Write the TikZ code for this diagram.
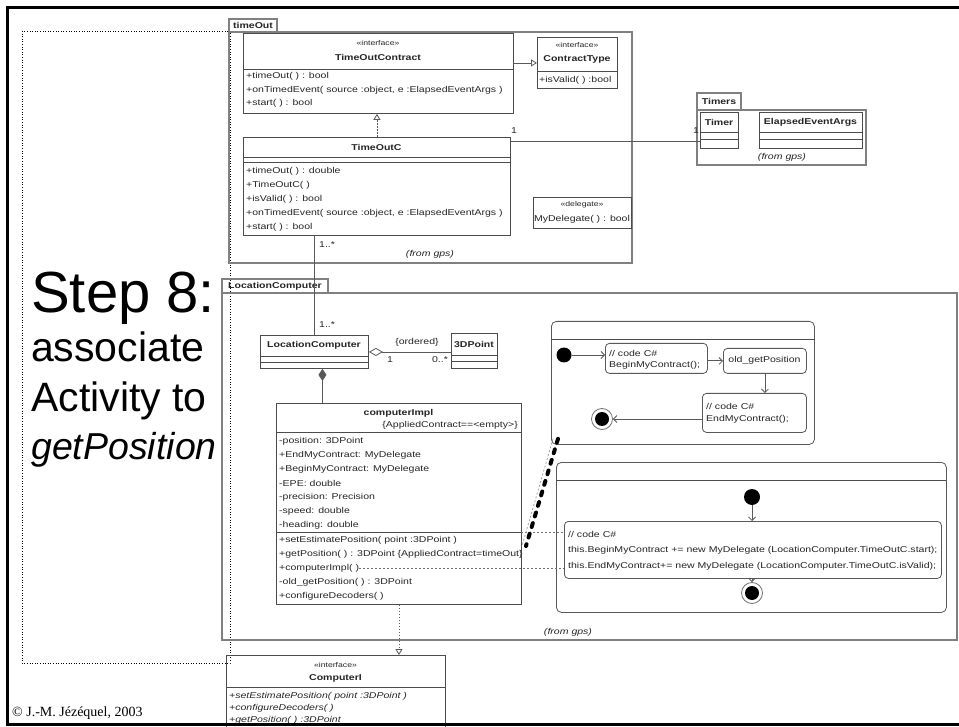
\documentclass[tikz,border=0pt]{standalone}
\usepackage{fontspec}
\setmainfont{Liberation Sans}
\newfontfamily\umlfont[FakeStretch=1.24]{Liberation Sans}
\newfontfamily\copyfont{Liberation Serif}
\usetikzlibrary{arrows.meta}

\newcommand\umlsize{\umlfont\fontsize{8.5}{10}\selectfont}
\newcommand\stereosize{\umlfont\fontsize{7}{8}\selectfont}

\tikzset{
  pkg/.style={draw=black!50, line width=1.3pt},
  cls/.style={draw=black!70, line width=0.9pt, inner sep=0pt, anchor=north west},
  sep/.style={draw=black!70, line width=0.8pt},
  txt/.style={font=\umlsize, text=black!85, inner sep=0pt},
  row/.style={txt, anchor=west},
  title/.style={txt, font=\umlsize\bfseries},
  ster/.style={txt, font=\stereosize},
  gps/.style={txt, font=\umlsize\itshape},
  action/.style={draw=black!65, line width=0.8pt, rounded corners=4pt, inner sep=0pt, anchor=north west},
  initial/.style={circle, fill=black, minimum size=15pt, inner sep=0pt},
  final/.style={circle, draw=black!55, line width=0.8pt, minimum size=21pt, inner sep=0pt,
    path picture={\fill[black] (path picture bounding box.center) circle (7pt);}},
  flow/.style={draw=black!65, line width=0.8pt, -{Straight Barb[length=3.5pt,width=7pt]}},
  assoc/.style={draw=black!65, line width=0.8pt},
  realize/.style={draw=black!65, line width=0.8pt, -{Triangle[open,length=6pt,width=7pt]}},
  link/.style={draw=black!55, line width=0.7pt, dash pattern=on 2pt off 2pt},
  big/.style={anchor=base west, inner sep=0pt, font=\fontsize{41}{46}\selectfont}
}

\begin{document}
\begin{tikzpicture}[x=1pt,y=-1pt]
\useasboundingbox (0,0) rectangle (959,727);
\fill[white] (0,0) rectangle (959,727);

% text column
\draw[dotted, line width=0.6pt] (22,31) rectangle (230,663);
\node[big, font=\fontsize{58}{60}\selectfont] (step) at (31,313) {Step 8:};
\node[big] (l1) at (31,362) {associate};
\node[big] (l2) at (31,411) {Activity to};
\node[big, font=\fontsize{37.5}{44}\selectfont\itshape] (l3) at (31,459) {getPosition};
\node[anchor=base west, inner sep=0pt, font=\copyfont\fontsize{14}{16}\selectfont] (copy) at (12,716) {© J.-M. Jézéquel, 2003};

% package timeOut
\draw[pkg] (229,19) rectangle (277,32);
\draw[pkg] (229,32) rectangle (632,263);
\node[title] (pkgTO) at (253,25.5) {timeOut};
\node[gps] (gpsTO) at (430,254) {(from gps)};

\node[cls, minimum width=270, minimum height=80] (toc) at (243,33) {};
\node[ster] (tocS) at (378,43) {«interface»};
\node[title] (tocN) at (378,57) {TimeOutContract};
\draw[sep] (243,69) -- (513,69);
\foreach \t [count=\i] in {{+timeOut( ) : bool},{+onTimedEvent( source :object, e :ElapsedEventArgs )},{+start( ) : bool}}
  \node[row] (tocOp\i) at (246,63+13.5*\i) {\t};

\node[cls, minimum width=80, minimum height=51] (ct) at (537,37) {};
\node[ster] (ctS) at (577,45) {«interface»};
\node[title] (ctN) at (577,59) {ContractType};
\draw[sep] (537,71) -- (617,71);
\node[row] (ctOp) at (539,80) {+isValid( ) :bool};

\node[cls, minimum width=267, minimum height=98] (tc) at (243,137) {};
\node[title] (tcN) at (376.5,147) {TimeOutC};
\draw[sep] (243,157) -- (510,157) (243,162) -- (510,162);
\foreach \t [count=\i] in {{+timeOut( ) : double},{+TimeOutC( )},{+isValid( ) : bool},{+onTimedEvent( source :object, e :ElapsedEventArgs )},{+start( ) : bool}}
  \node[row] (tcOp\i) at (246,157+14*\i) {\t};

\node[cls, minimum width=98, minimum height=31] (dlg) at (533,197) {};
\node[ster] (dlgS) at (582,205) {«delegate»};
\node[txt] (dlgN) at (582,219) {MyDelegate( ) : bool};

\draw[realize] (toc.east |- ct.west) -- (ct.west);
\draw[realize, dash pattern=on 1.5pt off 1.5pt] (tc.north) -- (tc.north |- toc.south);

% package Timers
\draw[pkg] (697,93) rectangle (741,110);
\draw[pkg] (697,110) rectangle (866,165);
\node[title] (pkgTm) at (719,101.5) {Timers};
\node[cls, minimum width=38, minimum height=36] (tm) at (700,112) {};
\node[title] (tmN) at (719,122) {Timer};
\draw[sep] (700,132) -- (738,132) (700,139) -- (738,139);
\node[cls, minimum width=103, minimum height=36] (eea) at (759,112) {};
\node[title] (eeaN) at (810.5,122) {ElapsedEventArgs};
\draw[sep] (759,132) -- (862,132) (759,139) -- (862,139);
\node[gps] (gpsTm) at (782,157) {(from gps)};

\draw[assoc] ([yshift=-4pt]tc.north east) -- ([yshift=-4pt]tc.north east -| tm.west);
\node[txt] (m1) at (514,131) {1};
\node[txt] (m2) at (696,131) {1};

% package LocationComputer
\draw[pkg] (222,279) rectangle (328,293);
\draw[pkg] (222,293) rectangle (957,640);
\node[title] (pkgLC) at (275,286) {LocationComputer};
\node[gps] (gpsLC) at (568,632) {(from gps)};

\node[cls, minimum width=108, minimum height=33] (lc) at (260,335) {};
\node[title] (lcN) at (314,345) {LocationComputer};
\draw[sep] (260,356) -- (368,356) (260,362) -- (368,362);
\node[cls, minimum width=46, minimum height=35] (pt) at (451,333) {};
\node[title] (ptN) at (474,344) {3DPoint};
\draw[sep] (451,355) -- (497,355) (451,361) -- (497,361);

\draw[assoc] (lc.north) -- (lc.north |- tc.south);
\node[row] (m3) at (319,245) {1..*};
\node[row] (m4) at (319,325) {1..*};

\draw[assoc, {Diamond[open,length=14pt,width=8pt]}-] (lc.east) -- (lc.east -| pt.west);
\node[txt] (ord) at (417,342) {\{ordered\}};
\node[txt] (m5) at (390,360) {1};
\node[txt] (m6) at (440,360) {0..*};

\node[cls, minimum width=245, minimum height=201] (ci) at (276,403) {};
\draw[assoc, {Diamond[length=12pt,width=8pt]}-] ([xshift=8pt]lc.south) -- ([xshift=8pt]lc.south |- ci.north);
\node[title] (ciN) at (398.5,413) {computerImpl};
\node[txt, anchor=east] (ciC) at (518,425) {\{AppliedContract==<empty>\}};
\draw[sep] (276,432) -- (521,432);
\foreach \t [count=\i from 0] in {{-position: 3DPoint},{+EndMyContract: MyDelegate},{+BeginMyContract: MyDelegate},{-EPE: double},{-precision: Precision},{-speed: double},{-heading: double}}
  \node[row] (ciAt\i) at (279,441+14*\i) {\t};
\draw[sep] (276,532) -- (521,532);
\foreach \t [count=\i] in {{+setEstimatePosition( point :3DPoint )},{+getPosition( ) : 3DPoint \{AppliedContract=timeOut\}},{+computerImpl( )},{-old\_getPosition( ) : 3DPoint},{+configureDecoders( )}}
  \node[row] (ciOp\i) at (279,526+14*\i) {\t};

% activity of old getPosition
\node[action, minimum width=263, minimum height=123, rounded corners=5pt] (act1) at (551,321) {};
\draw[sep] (551,339) -- (814,339);
\node[initial] (ini1) at (564,355) {};
\node[action, minimum width=102, minimum height=30] (a1) at (605,343) {};
\node[row] (a1t) at (609,353) {// code C\#};
\node[row] (a1u) at (609,365) {BeginMyContract();};
\node[action, minimum width=83, minimum height=25] (a2) at (723,348) {};
\node[txt] (a2t) at (764.5,360.5) {old\_getPosition};
\node[action, minimum width=104, minimum height=39] (a3) at (702,393) {};
\node[row] (a3t) at (706,406) {// code C\#};
\node[row] (a3u) at (706,419) {EndMyContract();};
\node[final] (fin1) at (602,419) {};
\draw[flow] (ini1) -- (ini1 -| a1.west);
\draw[flow] (a1.east |- a2.west) -- (a2.west);
\draw[flow] (a2.south) -- (a2.south |- a3.north);
\draw[flow] (a3.west |- fin1) -- (fin1);

% activity of the constructor
\node[action, minimum width=390, minimum height=150, rounded corners=5pt] (act2) at (556,462) {};
\draw[sep] (556,480) -- (946,480);
\node[initial, minimum size=16pt] (ini2) at (752,497) {};
\node[action, minimum width=377, minimum height=57] (code) at (564,521) {};
\node[row] (c1) at (568,534) {// code C\#};
\node[row] (c2) at (568,550) {this.BeginMyContract += new MyDelegate (LocationComputer.TimeOutC.start);};
\node[row] (c3) at (568,566) {this.EndMyContract+= new MyDelegate (LocationComputer.TimeOutC.isValid);};
\node[final] (fin2) at (752,593) {};
\draw[flow] (ini2) -- (ini2 |- code.north);
\draw[flow] (code.south -| fin2) -- (fin2);

% links from the operations
\coordinate (ciOps) at (521,532);
\draw[link] (ciOps) -- (ciOps -| code.west);
\draw[link] (ciOp3.east) -- (ciOp3.east -| code.west);
\coordinate (gpEnd) at (526,546);
\draw[link, draw=black!40] ([shift={(2,-6)}]act1.south west) -- ([xshift=-4pt]gpEnd);
\draw[line width=4pt, dash pattern=on 4pt off 7pt, line cap=round] ([shift={(7,-6)}]act1.south west) -- (gpEnd);

% interface ComputerI
\node[cls, minimum width=219, minimum height=90] (cI) at (226,655) {};
\node[ster] (cIS) at (335.5,665) {«interface»};
\node[title] (cIN) at (335.5,678) {ComputerI};
\draw[sep] (226,687) -- (445,687);
\foreach \t [count=\i] in {{+setEstimatePosition( point :3DPoint )},{+configureDecoders( )},{+getPosition( ) :3DPoint}}
  \node[row, font=\umlsize\itshape] (cIOp\i) at (229,684+12*\i) {\t};
\draw[realize, dash pattern=on 1.5pt off 1.5pt] (ci.south) -- (ci.south |- cI.north);

% slide frame
\draw[line width=3pt] (7.5,7.5) rectangle (990,724.5);
\end{tikzpicture}
\end{document}
